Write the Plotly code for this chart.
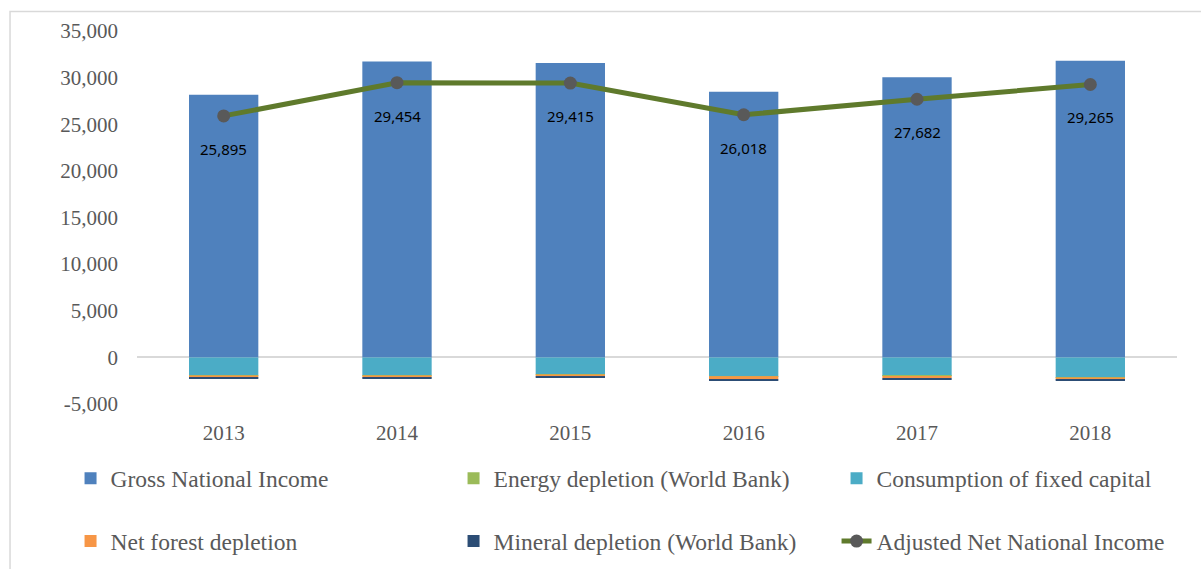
import plotly.graph_objects as go

years = ["2013", "2014", "2015", "2016", "2017", "2018"]
gni = [28160, 31720, 31580, 28480, 30050, 31800]
energy_depletion = [-5, -5, -40, -5, -5, -5]
fixed_capital = [-1930, -1940, -1800, -2030, -1990, -2150]
forest_depletion = [-220, -220, -220, -320, -230, -230]
mineral_depletion = [-110, -110, -100, -110, -150, -150]
anni = [25895, 29454, 29415, 26018, 27682, 29265]
anni_labels = ["25,895", "29,454", "29,415", "26,018", "27,682", "29,265"]

y_ticks = [-5000, 0, 5000, 10000, 15000, 20000, 25000, 30000, 35000]
y_tick_text = ["-5,000", "0", "5,000", "10,000", "15,000", "20,000", "25,000", "30,000", "35,000"]

serif = "Liberation Serif"
gray_text = "#595959"

fig = go.Figure()
fig.add_trace(go.Bar(x=years, y=gni, name="Gross National Income",
                     marker=dict(color="#4F81BD", line=dict(width=0)),
                     legend="legend", legendrank=1))
fig.add_trace(go.Bar(x=years, y=fixed_capital, name="Consumption of fixed capital",
                     marker=dict(color="#4BACC6", line=dict(width=0)),
                     legend="legend", legendrank=3))
fig.add_trace(go.Bar(x=years, y=energy_depletion, name="Energy depletion (World Bank)",
                     marker=dict(color="#9BBB59", line=dict(width=0)),
                     legend="legend", legendrank=2))
fig.add_trace(go.Bar(x=years, y=forest_depletion, name="Net forest depletion",
                     marker=dict(color="#F79646", line=dict(width=0)),
                     legend="legend2", legendrank=4))
fig.add_trace(go.Bar(x=years, y=mineral_depletion, name="Mineral depletion (World Bank)",
                     marker=dict(color="#2C4D75", line=dict(width=0)),
                     legend="legend2", legendrank=5))
fig.add_trace(go.Scatter(x=years, y=anni, name="Adjusted Net National Income",
                         mode="lines+markers",
                         line=dict(color="#5F7A2C", width=5),
                         marker=dict(color="#595959", size=13),
                         legend="legend2", legendrank=6))

# category axis: annotations are placed by category index
annotations = [dict(x=i, y=val, xref="x", yref="y", text=lab, showarrow=False,
                    yshift=-33, font=dict(family="Noto Sans", size=15, color="#000000"))
               for i, (val, lab) in enumerate(zip(anni, anni_labels))]

legend_common = dict(orientation="h", xanchor="left", yanchor="middle",
                     entrywidth=338, entrywidthmode="pixels",
                     font=dict(family=serif, size=23.5, color=gray_text),
                     bgcolor="rgba(0,0,0,0)", traceorder="normal")

fig.update_layout(
    width=1201, height=569,
    margin=dict(l=137, r=24, t=31, b=165, autoexpand=False),
    paper_bgcolor="white", plot_bgcolor="white",
    barmode="relative", bargap=0.6,
    showlegend=True,
    legend=dict(x=-0.0639, y=-0.1995, **legend_common),
    legend2=dict(x=-0.0639, y=-0.368, **legend_common),
    xaxis=dict(type="category", showgrid=False, showline=False, ticks="",
               tickfont=dict(family=serif, size=21, color=gray_text),
               ticklabelstandoff=14),
    yaxis=dict(range=[-5000, 35000], tickvals=y_ticks, ticktext=y_tick_text,
               showgrid=False, showline=False, ticks="",
               zeroline=True, zerolinecolor="#D9D9D9", zerolinewidth=2,
               tickfont=dict(family=serif, size=21, color=gray_text),
               ticklabelstandoff=18),
    annotations=annotations,
    shapes=[dict(type="rect", xref="paper", yref="paper",
                 x0=-0.1221, x1=1.05, y0=-0.6, y1=1.0522,
                 line=dict(color="#D9D9D9", width=1.5), fillcolor="rgba(0,0,0,0)",
                 layer="below")],
)

fig.write_html("out.html", config={"displayModeBar": False},
               post_script="document.body.style.margin='0';document.body.style.overflow='hidden';")
